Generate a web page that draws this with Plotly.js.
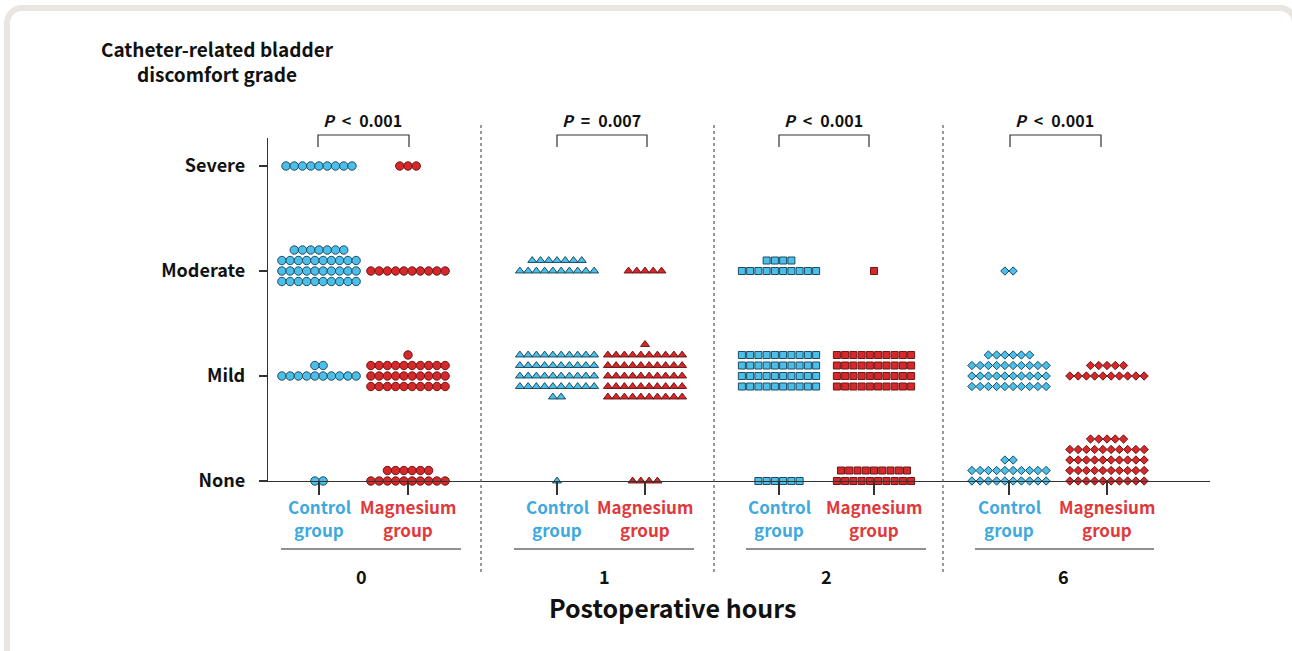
<!DOCTYPE html>
<html>
<head>
<meta charset="utf-8">
<script src="https://cdn.plot.ly/plotly-3.0.1.min.js"></script>
<style>
  html, body { margin: 0; padding: 0; background: #ffffff; width: 1292px; height: 651px; overflow: hidden; }
  #frame { position: absolute; left: 4px; top: 5px; width: 1282px; height: 700px; border: 6px solid #e9e6e1; border-radius: 18px; background: #ffffff; }
  #chart { position: absolute; left: 0; top: 0; width: 1292px; height: 651px; }
</style>
</head>
<body>
<div id="frame"></div>
<div id="chart"></div>
<script>
// ---------- DATA ----------
const hours = ['0', '1', '2', '6'];
const grades = ['None', 'Mild', 'Moderate', 'Severe'];
const groupNames = [['Control', 'group'], ['Magnesium', 'group']];
// number of patients per grade, ordered [None, Mild, Moderate, Severe]
const control_h0   = [2, 12, 37, 9];
const magnesium_h0 = [16, 31, 10, 3];
const control_h1   = [1, 42, 17, 0];
const magnesium_h1 = [4, 51, 5, 0];
const control_h2   = [6, 40, 14, 0];
const magnesium_h2 = [19, 40, 1, 0];
const control_h6   = [22, 36, 2, 0];
const magnesium_h6 = [45, 15, 0, 0];
const pValues = ['P < 0.001', 'P = 0.007', 'P < 0.001', 'P < 0.001'];
const xTitle = 'Postoperative hours';
const yTitleLines = ['Catheter-related bladder', 'discomfort grade'];

// ---------- LAYOUT CONFIG ----------
const W = 1292, H = 651;
const plotL = 268, plotR = 1210, plotT = 138, plotB = 481;
const pxPerUnit = 105;               // pixels per grade step
const rowStep = 0.1;                 // vertical step between rows (grade units)
const dotStep = 8.25;                // horizontal step between dots (x units = px)
const perRow = 10;
const groupCenters = [[319, 408], [557, 645], [779, 874], [1009, 1107]];
const symbols = ['circle', 'triangle-up', 'square', 'diamond'];
const sizes = [8.4, 7.8, 7, 6.4];
const fills = ['#4cbfe9', '#d6282a'];
const edges = ['#1d4b63', '#6e1717'];
const labelColors = ['#3ea9de', '#e0393b'];
const series = [[control_h0, magnesium_h0], [control_h1, magnesium_h1],
                [control_h2, magnesium_h2], [control_h6, magnesium_h6]];
const hourLabelX = [361, 604, 826, 1063];
const underlines = [[281, 461], [514, 694], [746, 926], [975, 1154]];
const brackets = [[318, 409], [557, 647], [779, 869], [1010, 1101]];
const separators = [481, 714, 943];
const FONT = '"Noto Sans CJK KR", "Noto Sans", sans-serif';

const px = x => (x - plotL) / (plotR - plotL);
const py = y => (plotB - y) / (plotB - plotT);

// arrange counts as rows of dots
function dotPositions(counts, cx) {
  const xs = [], ys = [];
  counts.forEach((n, g) => {
    if (!n) return;
    const k = Math.floor(n / perRow), rem = n % perRow;
    const rows = [];
    if (g === 0) {
      for (let r = 0; r < k; r++) rows.push([perRow, r]);
      if (rem) rows.push([rem, k]);
    } else {
      const top = Math.floor(k / 2);
      for (let r = 0; r < k; r++) rows.push([perRow, top - r]);
      if (rem) rows.push([rem, k % 2 === 1 ? top + 1 : top - k]);
    }
    rows.forEach(([m, r]) => {
      for (let i = 0; i < m; i++) {
        xs.push(cx + (i - (m - 1) / 2) * dotStep);
        ys.push(g + r * rowStep);
      }
    });
  });
  return {xs, ys};
}

const traces = [];
series.forEach((pair, h) => {
  pair.forEach((counts, gi) => {
    const p = dotPositions(counts, groupCenters[h][gi]);
    traces.push({
      type: 'scatter', mode: 'markers', x: p.xs, y: p.ys,
      cliponaxis: false, hoverinfo: 'skip', showlegend: false,
      marker: {symbol: symbols[h], size: sizes[h], color: fills[gi],
               line: {color: edges[gi], width: 1}}
    });
  });
});

const shapes = [], annotations = [];
function note(x, y, text, size, color) {
  annotations.push({xref: 'paper', yref: 'paper', x: px(x), y: py(y),
    xanchor: 'center', yanchor: 'middle', text: text, showarrow: false,
    font: {family: FONT, size: size, color: color || '#111'}});
}
// separators
separators.forEach(x => shapes.push({type: 'line', xref: 'paper', yref: 'paper',
  x0: px(x), x1: px(x), y0: py(125), y1: py(575),
  line: {color: '#555', width: 1.2, dash: 'dot'}}));
// brackets + p values
brackets.forEach(([a, b], i) => {
  shapes.push({type: 'path', xref: 'paper', yref: 'paper',
    path: `M ${px(a)} ${py(147)} L ${px(a)} ${py(135)} L ${px(b)} ${py(135)} L ${px(b)} ${py(147)}`,
    line: {color: '#333', width: 1.2}});
  const t = pValues[i].replace(/^P/, '§').replace('<', '&lt;').replace(/ /g, '\u2002').replace('§', '<i>P</i>');
  note((a + b) / 2 - 1, 120, '<b>' + t + '</b>', 16);
});
// group labels, underlines, hour labels
groupCenters.forEach((cs, h) => {
  cs.forEach((cx, gi) => {
    note(cx, 506, '<b>' + groupNames[gi][0] + '</b>', 17, labelColors[gi]);
    note(cx, 529, '<b>' + groupNames[gi][1] + '</b>', 17, labelColors[gi]);
  });
  const [u0, u1] = underlines[h];
  shapes.push({type: 'line', xref: 'paper', yref: 'paper', x0: px(u0), x1: px(u1),
    y0: py(549), y1: py(549), line: {color: '#222', width: 1.2}});
  note(hourLabelX[h], 576, '<b>' + hours[h] + '</b>', 18);
});
note(672, 607, '<b>' + xTitle + '</b>', 25);
note(217, 49, '<b>' + yTitleLines[0] + '</b>', 19);
note(217, 74, '<b>' + yTitleLines[1] + '</b>', 19);

const layout = {
  width: W, height: H,
  margin: {l: plotL, r: W - plotR, t: plotT, b: H - plotB, pad: 0},
  paper_bgcolor: 'rgba(0,0,0,0)', plot_bgcolor: 'rgba(0,0,0,0)',
  font: {family: FONT},
  showlegend: false,
  xaxis: {range: [plotL, plotR], showgrid: false, zeroline: false,
          showline: true, linecolor: '#333', linewidth: 1.2,
          tickmode: 'array', tickvals: groupCenters.flat(), ticks: 'outside',
          ticklen: 13, tickwidth: 1.2, tickcolor: '#333', showticklabels: false,
          fixedrange: true},
  yaxis: {range: [0, (plotB - plotT) / pxPerUnit], showgrid: false, zeroline: false,
          showline: true, linecolor: '#333', linewidth: 1.2,
          tickmode: 'array', tickvals: grades.map((g, i) => i),
          ticktext: grades.map(g => '<b>' + g + '</b>'),
          ticks: 'outside', ticklen: 8, tickwidth: 1.2, tickcolor: '#333',
          ticklabelstandoff: 10,
          tickfont: {family: FONT, size: 18, color: '#111'}, fixedrange: true},
  shapes, annotations
};

Plotly.newPlot('chart', traces, layout, {displayModeBar: false, staticPlot: true});
</script>
</body>
</html>
